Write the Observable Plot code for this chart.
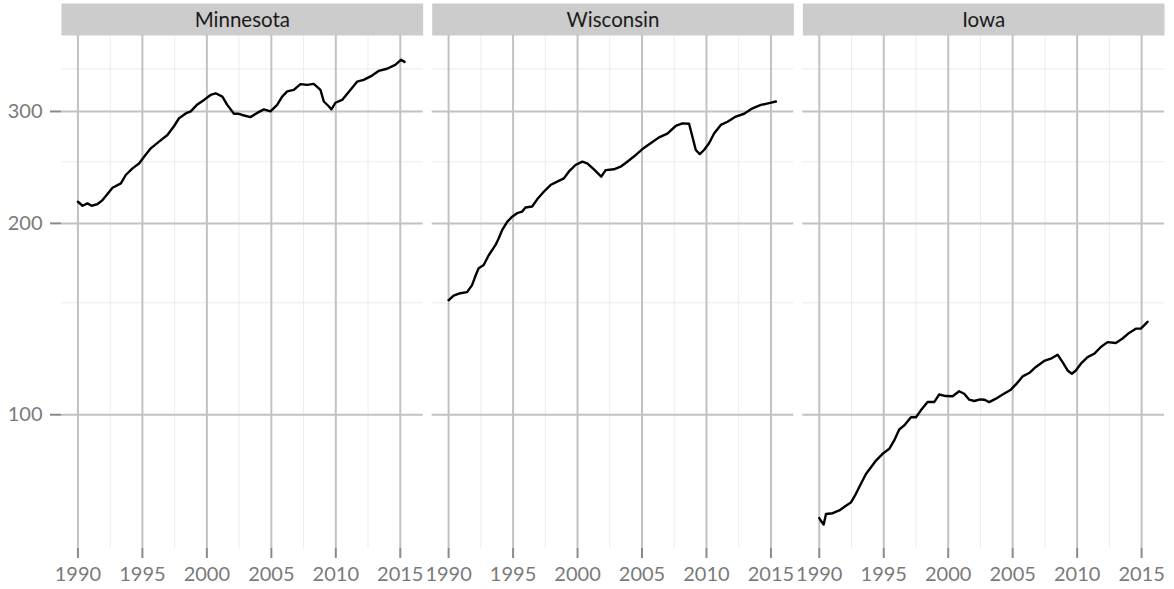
<!DOCTYPE html>
<html><head><meta charset="utf-8">
<script src="https://cdn.jsdelivr.net/npm/d3@7"></script>
<script src="https://cdn.jsdelivr.net/npm/@observablehq/plot@0.6"></script>
<style>
html,body{margin:0;padding:0;background:#fff;}
</style></head><body><div id="chart"></div>
<script>
const states = ["Minnesota", "Wisconsin", "Iowa"];

const mnYear = [1990.0, 1990.36, 1990.74, 1991.06, 1991.52, 1991.91, 1992.29, 1992.68, 1993.33, 1993.71, 1994.23, 1994.74, 1995.13, 1995.65, 1996.29, 1996.94, 1997.46, 1997.84, 1998.36, 1998.75, 1999.26, 1999.78, 2000.29, 2000.68, 2001.2, 2001.58, 2002.1, 2002.48, 2002.74, 2003.38, 2003.9, 2004.42, 2004.93, 2005.45, 2005.84, 2006.23, 2006.74, 2007.26, 2007.78, 2008.29, 2008.81, 2009.07, 2009.45, 2009.66, 2009.97, 2010.49, 2011.0, 2011.65, 2012.16, 2012.81, 2013.32, 2013.97, 2014.61, 2015.05, 2015.33];
const mnValue = [216.3, 213.2, 215.0, 213.2, 214.5, 217.6, 222.4, 227.6, 231.2, 238.3, 244.1, 248.5, 254.6, 262.5, 268.9, 275.5, 284.6, 292.7, 297.8, 300.1, 307.7, 312.8, 318.5, 320.4, 316.6, 307.2, 297.5, 297.5, 296.2, 293.9, 298.4, 302.3, 300.1, 307.2, 316.6, 322.6, 324.4, 331.2, 330.3, 331.5, 324.4, 311.0, 305.7, 302.3, 309.6, 312.8, 321.9, 334.2, 336.4, 341.6, 347.4, 350.2, 355.2, 361.7, 359.0];

const wiYear = [1990.0, 1990.39, 1990.91, 1991.43, 1991.82, 1992.07, 1992.33, 1992.72, 1993.11, 1993.63, 1993.89, 1994.15, 1994.54, 1994.93, 1995.31, 1995.7, 1995.96, 1996.48, 1996.87, 1997.38, 1997.9, 1998.42, 1998.94, 1999.32, 1999.84, 2000.37, 2000.75, 2001.27, 2001.84, 2002.18, 2002.82, 2003.34, 2003.86, 2004.37, 2005.03, 2005.67, 2006.32, 2006.97, 2007.61, 2008.14, 2008.65, 2008.91, 2009.17, 2009.48, 2009.81, 2010.2, 2010.59, 2011.11, 2011.63, 2012.28, 2012.92, 2013.57, 2014.22, 2014.86, 2015.38];
const wiValue = [151.4, 153.9, 155.3, 155.9, 159.9, 165.1, 170.0, 172.0, 178.2, 184.8, 189.5, 195.2, 201.1, 204.9, 207.5, 208.7, 211.8, 212.6, 218.2, 224.3, 229.8, 232.6, 235.4, 241.2, 247.1, 250.1, 248.6, 243.3, 236.9, 242.6, 243.3, 245.6, 250.1, 254.8, 261.8, 267.4, 273.1, 276.9, 284.6, 287.3, 287.0, 273.7, 260.9, 257.1, 260.9, 267.4, 276.9, 285.7, 289.0, 294.5, 297.5, 303.4, 307.2, 309.2, 311.0];

const iaYear = [1990.0, 1990.08, 1990.34, 1990.52, 1991.04, 1991.55, 1992.07, 1992.46, 1992.84, 1993.23, 1993.62, 1994.01, 1994.4, 1994.91, 1995.43, 1995.81, 1996.2, 1996.59, 1997.11, 1997.5, 1997.88, 1998.4, 1998.91, 1999.3, 1999.82, 2000.34, 2000.85, 2001.24, 2001.63, 2002.02, 2002.48, 2002.79, 2003.18, 2003.7, 2004.22, 2004.86, 2005.25, 2005.77, 2006.28, 2006.8, 2007.44, 2007.96, 2008.48, 2008.87, 2009.26, 2009.59, 2009.9, 2010.29, 2010.81, 2011.32, 2011.84, 2012.36, 2013.0, 2013.52, 2014.03, 2014.55, 2014.94, 2015.46];
const iaValue = [68.8, 68.3, 67.2, 69.8, 70.0, 70.7, 71.9, 72.8, 75.1, 77.9, 80.7, 82.7, 84.7, 86.8, 88.4, 91.1, 94.8, 96.2, 99.1, 99.1, 101.6, 104.7, 104.7, 107.6, 107.0, 106.9, 108.9, 107.9, 105.6, 105.1, 105.7, 105.6, 104.7, 106.0, 107.6, 109.5, 111.6, 114.9, 116.3, 118.9, 121.5, 122.5, 124.3, 121.0, 117.4, 116.0, 117.4, 120.3, 123.2, 124.7, 127.8, 130.1, 129.7, 131.8, 134.5, 136.6, 136.6, 140.0];

const xTicks = [1990, 1995, 2000, 2005, 2010, 2015];
const xMinor = [1992.5, 1997.5, 2002.5, 2007.5, 2012.5];
const yTicks = [100, 200, 300];
const yMinor = [150, 250, 350];

const series = [
  {state: "Minnesota", years: mnYear, values: mnValue},
  {state: "Wisconsin", years: wiYear, values: wiValue},
  {state: "Iowa", years: iaYear, values: iaValue}
];
const data = series.flatMap(s => s.years.map((yr, i) => ({state: s.state, year: yr, value: s.values[i]})));

const chart = Plot.plot({
  width: 1174,
  height: 589,
  marginTop: 35,
  marginBottom: 41,
  marginLeft: 61,
  marginRight: 10,
  style: {fontFamily: "Lato, 'Open Sans', sans-serif", background: "#ffffff", overflow: "visible"},
  fx: {domain: states, paddingInner: 0.0243, paddingOuter: 0, round: false, label: null},
  x: {domain: [1988.725, 2016.775], label: null},
  y: {type: "log", domain: [61.6, 395], label: null},
  marks: [
    Plot.frame({fill: "#cccccc", stroke: "none", insetTop: -32, insetBottom: 513}),
    Plot.gridX(xMinor, {stroke: "#ececec", strokeOpacity: 1, strokeWidth: 1}),
    Plot.gridY(yMinor, {stroke: "#ececec", strokeOpacity: 1, strokeWidth: 1}),
    Plot.gridX(xTicks, {stroke: "#c2c2c2", strokeOpacity: 1, strokeWidth: 2}),
    Plot.gridY(yTicks, {stroke: "#c2c2c2", strokeOpacity: 1, strokeWidth: 2}),
    Plot.axisX(xTicks, {tickFormat: d => String(d), tickSize: 10, tickPadding: 8, fontSize: 20, stroke: "#8a8a8a", strokeWidth: 2, fill: "#7a7a7a", label: null}),
    Plot.axisY(yTicks, {tickFormat: d => String(d), tickSize: 11, tickPadding: 8, fontSize: 20, stroke: "#8a8a8a", strokeWidth: 2, fill: "#7a7a7a", label: null}),
    Plot.axisFx({anchor: "top", tickSize: 0, tickPadding: 9, fontSize: 20.5, fill: "#1a1a1a", label: null}),
    Plot.line(data, {x: "year", y: "value", fx: "state", stroke: "#000000", strokeWidth: 2.4, strokeLinejoin: "round"})
  ]
});
document.getElementById("chart").appendChild(chart);
</script>
</body></html>
